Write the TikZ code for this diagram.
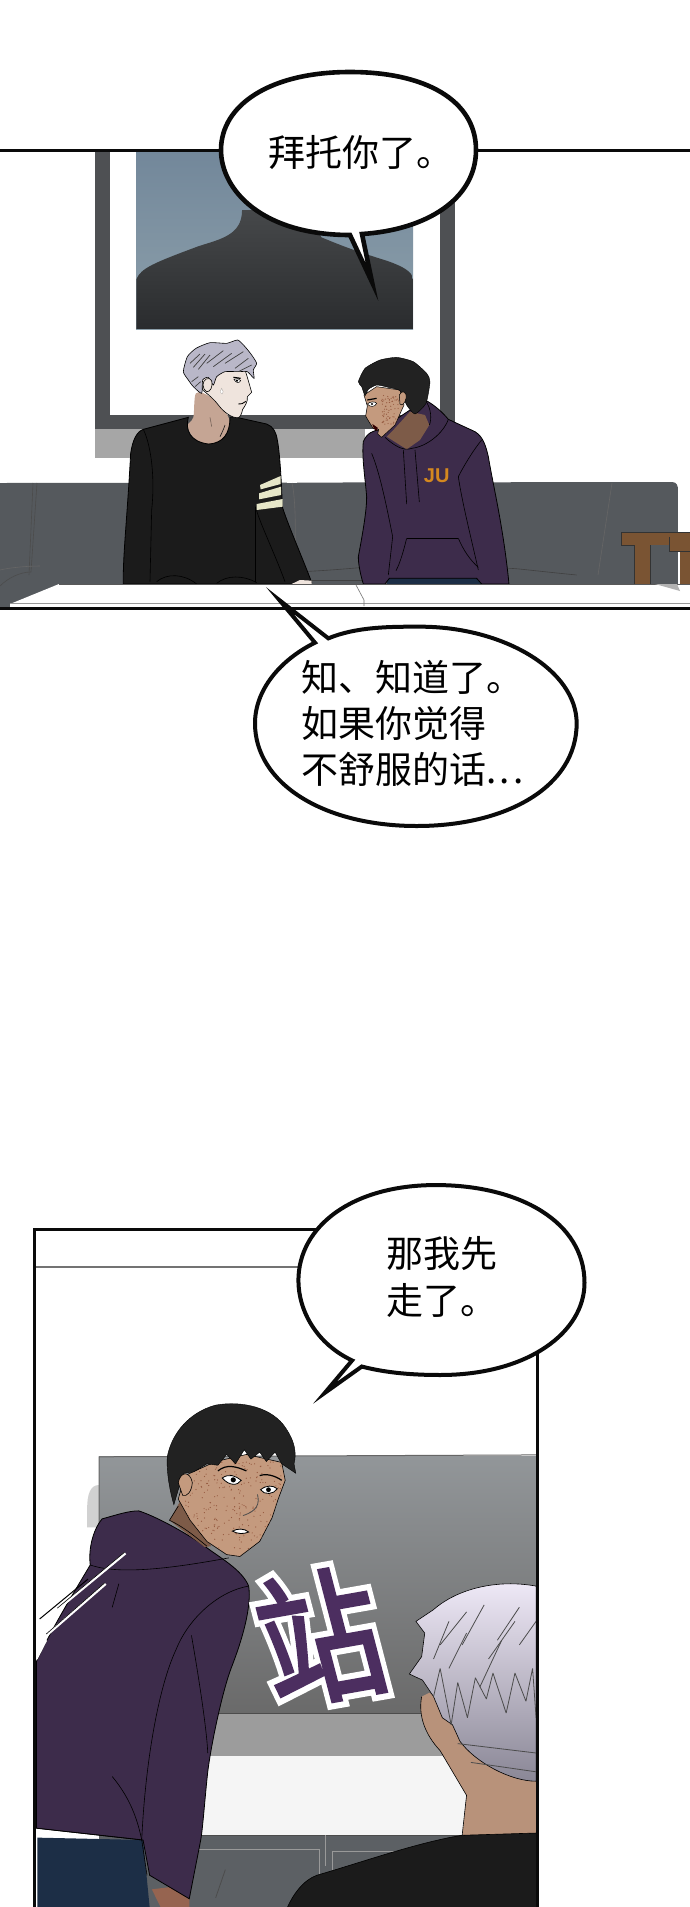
\documentclass[tikz,border=0pt]{standalone}
\usepackage{fontspec}
\setmainfont{Liberation Sans}
\newfontfamily\cjk{Noto Sans CJK SC}
\newfontfamily\cjkhalo[FakeBold=11]{Noto Sans CJK SC}
\newfontfamily\cjkfill[FakeBold=2.5]{Noto Sans CJK SC}
\usetikzlibrary{calc}
\definecolor{lineK}{HTML}{0A0A0A}
\definecolor{frameG}{HTML}{4E5053}
\definecolor{sofaG}{HTML}{55595D}
\definecolor{hoodP}{HTML}{3D2C4B}
\definecolor{sweat}{HTML}{1B1B1B}
\definecolor{hairD}{HTML}{222222}
\definecolor{hairL}{HTML}{B9B7C8}
\definecolor{skinL}{HTML}{EFE4DD}
\definecolor{neckL}{HTML}{C5A594}
\definecolor{skinF}{HTML}{C49A7E}
\definecolor{neckD}{HTML}{7D5B48}
\definecolor{speck}{HTML}{95593F}
\definecolor{wood}{HTML}{7A5433}
\definecolor{blueT}{HTML}{72879A}
\definecolor{blueB}{HTML}{8DA0AB}
\definecolor{silT}{HTML}{46484A}
\definecolor{silB}{HTML}{2A2C2E}
\definecolor{jeansA}{HTML}{1C2E46}
\definecolor{orangeJ}{HTML}{D4881F}
\definecolor{tvT}{HTML}{929699}
\definecolor{tvB}{HTML}{6A6A6A}
\definecolor{cab}{HTML}{5C6064}
\definecolor{handC}{HTML}{966450}
\definecolor{neckG}{HTML}{B8927A}
\definecolor{hairT}{HTML}{F0EAF8}
\definecolor{hairM}{HTML}{BEBACC}
\definecolor{hairB}{HTML}{8A8796}
\definecolor{zhanC}{HTML}{4C2E60}
\definecolor{stripe}{HTML}{E6E6C8}
\tikzset{
  za/.style={shift={(0,50)},x=.44014pt,y=-.36364pt},
  zb/.style={shift={(0,1170)},x=.44014pt,y=-.47015pt},
  zc/.style={shift={(110,330)},x=.33333pt,y=-.33333pt},
  panelline/.style={draw=lineK,line width=3pt},
  bubble/.style={draw=lineK,fill=white,line width=4pt,line join=miter,miter limit=12},
  say/.style={font=\cjk\fontsize{37}{46}\selectfont,align=left,inner sep=0pt,text=black},
  thin/.style={draw=#1,line width=.6pt},
}
\begin{document}
\begin{tikzpicture}[x=1pt,y=-1pt]
\useasboundingbox (0,0) rectangle (690,1907);
\fill[white] (0,0) rectangle (690,1907);

%%% ---- panel 1
\begin{scope}
\clip (0,150) rectangle (690,608);
% picture on the wall
\fill[frameG] (95,150) rectangle (455,429);
\fill[white] (110,150) rectangle (440,415);
\fill[gray!70] (95,429) rectangle (365,458);
\shade[top color=blueT,bottom color=blueB] (136,150) rectangle (413,329);
\begin{scope}[za]
\shade[top color=silT,bottom color=silB]
  (310,767) -- (310,630) .. controls (320,600) and (350,585) .. (450,540)
  .. controls (500,520) and (550,510) .. (550,440) -- (700,440)
  -- (730,515) .. controls (770,535) and (800,550) .. (880,580) .. controls (915,595) and (938,610) .. (938,630) -- (938,767) -- cycle;
\end{scope}
% sofa
\fill[sofaG] (0,483) -- (672,482) .. controls (677,482) and (678,486) .. (678,490) -- (678,592) -- (10,607) -- (0,607) -- cycle;
\fill[white] (287,470) rectangle (297,483);
\draw[thin=black!70] (33,483) -- (29,575);
\draw[thin=black!70] (37,483) -- (31,572);
\draw[thin=black!60] (292,483) .. controls (296,500) and (296,540) .. (294,570);
\draw[thin=black!60] (612,483) -- (598,575);
\draw[thin=black!60] (0,570) .. controls (8,568) and (25,566) .. (40,566);
\draw[thin=black!70] (0,586) .. controls (8,578) and (20,572) .. (31,572);
\begin{scope}[zc]
\draw[thin=black!75] (430,725) .. controls (500,732) and (650,722) .. (760,712);
\draw[thin=black!75] (1195,715) .. controls (1220,715) and (1250,720) .. (1400,735);
\draw[thin=black!75] (435,752) -- (760,752);
\end{scope}
% chairs
\fill[white] (678,482) rectangle (690,584);
\fill[wood] (621,532) -- (690,532) -- (690,545) -- (621,545) -- cycle;
\fill[wood] (634,545) rectangle (650,584);
\fill[wood] (669,537) -- (690,537) -- (690,551) -- (669,551) -- cycle;
\fill[wood] (680,551) rectangle (690,584);
\draw[thin=black!80] (621,532) -- (690,532);
\draw[thin=black!80] (669,537) -- (669,551) -- (690,551);
\draw[thin=black!80] (621,532) -- (621,545) -- (634,545) -- (634,584);
\draw[thin=black!80] (650,545) -- (650,584);
% man in the black sweater
\begin{scope}[zc]
\fill[neckL] plot[smooth cycle,tension=.5] coordinates{(258,190) (250,262) (232,288) (255,328) (295,342) (340,330) (358,292) (352,255) (300,200)};
\filldraw[fill=sweat,draw=black,line width=.8pt]
  (235,262) .. controls (225,300) and (240,335) .. (295,342) .. controls (340,340) and (360,310) .. (360,262)
  -- (380,262) -- (470,282) .. controls (490,290) and (498,305) .. (502,330) .. controls (510,370) and (515,470) .. (517,530)
  .. controls (530,575) and (580,690) .. (605,757) -- (545,762) -- (40,762) .. controls (38,680) and (52,560) .. (62,370)
  .. controls (68,330) and (80,305) .. (100,298) -- cycle;
\draw[thin=black!90] (345,285) .. controls (340,300) and (335,310) .. (330,320);
\draw[thin=neckL!60!black] (300,262) -- (305,290);
\draw[thin=black] (100,298) .. controls (125,350) and (135,450) .. (125,540) -- (120,755);
\draw[thin=black] (437,530) .. controls (437,620) and (437,700) .. (437,755);
\draw[thin=black] (437,530) .. controls (445,570) and (490,660) .. (525,755);
\draw[thin=black] (140,755) .. controls (170,730) and (220,730) .. (260,762);
\draw[thin=black] (320,760) .. controls (350,735) and (400,735) .. (440,758);
\fill[skinL] (545,762) -- (570,750) -- (605,752) -- (605,762) -- cycle;
\fill[stripe] (450,465) -- (512,438) -- (512,462) -- (452,478) -- cycle;
\fill[stripe] (447,490) -- (513,470) -- (513,495) -- (447,508) -- cycle;
\fill[stripe] (440,522) -- (518,507) -- (518,530) -- (440,540) -- cycle;
\filldraw[fill=skinL,draw=black,line width=.6pt] (270,150) .. controls (300,125) and (360,115) .. (405,120) .. controls (412,140) and (420,170) .. (425,187)
  -- (412,200) .. controls (414,215) and (405,228) .. (398,238) .. controls (395,250) and (392,260) .. (385,263)
  .. controls (365,265) and (340,245) .. (325,225) .. controls (310,205) and (290,190) .. (278,180) -- cycle;
\filldraw[fill=hairL,draw=black,line width=.6pt] plot[smooth cycle,tension=.35] coordinates{(220,125) (232,80) (258,55) (300,38) (350,40) (383,30) (405,50) (425,75) (440,100) (430,120) (432,145) (412,125) (385,125) (345,125) (320,140) (310,165) (295,142) (278,150) (275,190) (250,170) (235,150)};
\foreach \a/\b/\c/\d in {240/100/270/72,250/112/285/72,265/118/300/75,290/100/340/62,310/110/365/70,345/100/400/65,375/115/415/85,385/125/425/105,255/170/272/155,245/155/265/140}
  {\draw[black!75,line width=.7pt] (\a,\b) -- (\c,\d);}
\filldraw[fill=skinL,draw=black,line width=.6pt] (279,165) .. controls (278,148) and (298,138) .. (305,152) .. controls (310,170) and (300,187) .. (290,185) .. controls (283,182) and (280,175) .. (279,165) -- cycle;
\draw[black,line width=1.2pt] (370,142) -- (392,145);
\filldraw[fill=white,draw=black,line width=.5pt] (372,148) .. controls (380,143) and (388,146) .. (392,152) .. controls (388,160) and (378,160) .. (372,148) -- cycle;
\fill[black] (381,152) circle (1.2pt);
\draw[black,line width=.9pt] (385,222) .. controls (392,224) and (400,220) .. (408,214);
\filldraw[fill=white,draw=skinL!70!black,line width=.3pt] (335,175) .. controls (328,185) and (332,192) .. (336,192) .. controls (342,190) and (340,182) .. (335,175) -- cycle;
\end{scope}
% man in the purple hoodie
\begin{scope}[zc]
\fill[jeansA] (830,735) rectangle (1120,762);
\filldraw[fill=hoodP,draw=black,line width=.8pt]
  (945,210) .. controls (975,225) and (1000,250) .. (1015,268) -- (1095,305) .. controls (1120,320) and (1128,350) .. (1135,380)
  .. controls (1150,470) and (1180,590) .. (1197,762) -- (1115,762) -- (1100,745) -- (838,745) -- (825,762) -- (760,762)
  .. controls (750,730) and (745,700) .. (745,680) .. controls (760,600) and (770,540) .. (770,500)
  .. controls (765,440) and (755,380) .. (760,335) .. controls (770,310) and (790,300) .. (810,300) -- cycle;
\fill[neckD] (830,320) -- (850,300) -- (900,245) -- (945,255) -- (958,285) -- (930,330) -- (890,358) -- cycle;
\draw[thin=black] (825,322) .. controls (850,345) and (880,365) .. (905,355) .. controls (950,350) and (1000,310) .. (1015,268);
\draw[thin=black] (945,210) .. controls (965,235) and (965,270) .. (958,285);
\draw[thin=black] (880,360) -- (890,522);
\draw[thin=black] (915,360) -- (928,516);
\draw[thin=black] (890,625) -- (1045,625);
\draw[thin=black] (890,625) .. controls (880,665) and (870,700) .. (858,722);
\draw[thin=black] (1045,625) .. controls (1060,660) and (1080,690) .. (1105,712);
\draw[thin=black] (785,370) .. controls (810,430) and (830,530) .. (848,620) -- (835,735);
\draw[thin=black] (1115,330) .. controls (1090,360) and (1060,410) .. (1045,440) .. controls (1055,510) and (1080,610) .. (1105,720);
\def\facepath{(762,195) -- (800,170) -- (870,180) -- (882,225) -- (855,285) -- (815,322) -- (803,312) -- (806,298) -- (790,296) -- (775,272) -- (767,258) -- (772,228) -- cycle}
\filldraw[fill=skinF,draw=black,line width=.5pt] \facepath;
\begin{scope}
\clip \facepath;
\pgfmathsetseed{7}
\foreach \i in {1,...,70}{
  \pgfmathsetmacro{\px}{815+55*rnd}
  \pgfmathsetmacro{\py}{195+90*rnd}
  \fill[speck] (\px,\py) circle (.6pt);
}
\end{scope}
\filldraw[fill=hairD,draw=black,line width=.4pt] plot[smooth cycle,tension=.35] coordinates{(745,155) (765,115) (810,90) (860,82) (910,95) (950,130) (960,155) (948,220) (915,252) (890,225) (870,182) (835,172) (800,165) (775,178) (765,197) (755,170)};
\filldraw[fill=skinF,draw=black,line width=.5pt] (868,195) .. controls (875,178) and (892,185) .. (888,205) .. controls (885,222) and (875,228) .. (870,222) -- cycle;
\draw[black,line width=1.2pt] (772,210) -- (800,205);
\filldraw[fill=white,draw=black,line width=.5pt] (772,222) .. controls (780,214) and (795,214) .. (800,220) .. controls (795,232) and (780,232) .. (772,222) -- cycle;
\fill[black] (786,222) circle (1.2pt);
\fill[black!80!red] (787,282) -- (803,293) -- (802,303) -- (792,297) -- cycle;
\node[font=\bfseries\fontsize{20}{20}\selectfont,text=orangeJ,inner sep=0pt] (ju) at (980,437) {JU};
\end{scope}
% table
\fill[white] (10,604) -- (59,584) -- (690,584) -- (690,607) -- (10,607) -- cycle;
\draw[thin=black!65] (59,584) -- (690,584);
\draw[thin=black!40] (10,603) -- (690,603);
\fill[gray!60] (655,584) -- (680,591) -- (677,584) -- cycle;
\begin{scope}[zc]
\draw[thin=black!55] (738,765) -- (762,810) -- (762,828);
\end{scope}
\end{scope}
\draw[panelline] (0,150) -- (690,150);
\draw[panelline] (0,608) -- (690,608);

% bubble 1
\path[bubble,line width=4.6pt] (362,234) .. controls (425,230) and (476,200) .. (476,150)
  .. controls (476,100) and (425,72) .. (350,72) .. controls (270,72) and (221,105) .. (221,150)
  .. controls (221,190) and (262,235) .. (350,235) -- (372,282) -- cycle;
\node[say,anchor=west] (t1) at (268,153) {拜托你了。};

% bubble 2
\begin{scope}[shift={(230,580)},x=.33333pt,y=-.33333pt]
\path[bubble] (295,175) .. controls (380,140) and (480,140) .. (570,140)
  .. controls (820,140) and (1040,270) .. (1040,430) .. controls (1040,620) and (830,738) .. (560,738)
  .. controls (280,738) and (75,610) .. (75,430) .. controls (75,330) and (150,240) .. (255,188) -- (149,61) -- cycle;
\end{scope}
\node[say,anchor=north west] (t2) at (301,660) {知、知道了。\\如果你觉得\\不舒服的话.\kern3.5pt.\kern3.5pt.};

%%% ---- panel 3
\begin{scope}
\clip (34,1229) rectangle (537,1907);
\draw[black!55,line width=1.2pt] (34,1267) -- (310,1267);
\begin{scope}[zb]
\fill[black!18] (225,670) .. controls (205,670) and (198,690) .. (198,720) -- (198,760) -- (225,760) -- cycle;
\shade[top color=tvT,bottom color=tvB] (225,610) rectangle (1220,1155);
\draw[black!60,line width=1pt] (225,760) -- (225,610) -- (1220,606);
\draw[black!70,line width=1.2pt] (225,1157) -- (1220,1157);
\fill[gray!78] (225,1157) rectangle (1220,1247);
\fill[black!4] (225,1247) rectangle (1220,1415);
\fill[cab] (225,1415) rectangle (1220,1568);
\draw[black!70,line width=1pt] (225,1415) -- (1220,1415);
\draw[black!40,line width=.8pt] (440,1445) -- (725,1445) -- (725,1568);
\draw[black!40,line width=.8pt] (740,1415) -- (740,1480);
\draw[black!40,line width=.8pt] (755,1568) -- (755,1450) -- (1000,1450);
\draw[black!70,line width=.8pt] (512,1488) -- (490,1548);
% hooded man
\fill[jeansA] (85,1420) -- (325,1425) -- (340,1568) -- (85,1568) -- cycle;
\fill[handC] (345,1530) -- (430,1520) -- (430,1568) -- (365,1568) -- cycle;
\filldraw[fill=hoodP,draw=black,line width=.8pt]
  (83,1045) .. controls (120,970) and (180,880) .. (205,840) .. controls (200,800) and (215,760) .. (232,742)
  .. controls (260,735) and (290,725) .. (315,725) .. controls (350,735) and (420,770) .. (465,800)
  .. controls (500,825) and (550,850) .. (565,885) .. controls (572,930) and (550,1000) .. (525,1060)
  .. controls (505,1110) and (480,1220) .. (472,1280) .. controls (465,1340) and (460,1410) .. (455,1430)
  -- (430,1550) -- (340,1500) -- (325,1425) -- (83,1400) -- cycle;
\draw[thin=black] (205,840) .. controls (280,865) and (430,840) .. (520,825);
\draw[thin=black] (270,880) -- (255,930);
\draw[thin=black] (565,885) .. controls (500,895) and (430,950) .. (400,1020) .. controls (360,1100) and (330,1260) .. (322,1425) -- (334,1500);
\draw[thin=black] (435,990) .. controls (450,1070) and (470,1190) .. (472,1240);
\draw[thin=black] (255,1290) .. controls (290,1330) and (310,1370) .. (322,1425);
\draw[thin=black] (83,1400) -- (322,1425);
% face
\fill[neckD] (385,745) -- (412,700) -- (480,800) -- (465,802) -- cycle;
\draw[thin=black] (385,745) -- (405,715);
\draw[thin=black] (385,745) .. controls (420,760) and (450,785) .. (470,800);
\def\faceb{(405,700) -- (420,650) -- (490,620) -- (560,605) -- (640,622) -- (648,660) -- (632,700) -- (618,740) -- (590,790) -- (545,822) -- (515,818) -- (470,790) -- (432,745) -- cycle}
\filldraw[fill=skinF,draw=black,line width=.6pt] \faceb;
\begin{scope}
\clip \faceb;
\pgfmathsetseed{11}
\foreach \i in {1,...,260}{
  \pgfmathsetmacro{\px}{420+220*rnd}
  \pgfmathsetmacro{\py}{620+200*rnd}
  \fill[speck] (\px,\py) circle (.6pt);
}
\end{scope}
\filldraw[fill=hairD,draw=black,line width=.4pt] (380,610) .. controls (390,560) and (430,515) .. (490,500) .. controls (550,490) and (620,505) .. (650,550)
  .. controls (668,575) and (675,600) .. (668,625) -- (672,645) -- (640,625) -- (625,600) -- (605,620) -- (590,600) -- (570,615) -- (555,595) -- (535,625) -- (515,605) -- (495,628) -- (470,625) -- (440,642) -- (418,645)
  -- (405,680) -- (395,712) .. controls (385,680) and (378,640) .. (380,610) -- cycle;
\filldraw[fill=skinF,draw=black,line width=.6pt] (405,665) .. controls (410,640) and (432,640) .. (437,665) .. controls (435,685) and (425,695) .. (415,692) -- cycle;
\draw[black,line width=1.2pt] (495,640) .. controls (515,625) and (535,630) .. (560,640);
\draw[black,line width=1.2pt] (590,650) .. controls (605,645) and (625,650) .. (640,660);
\filldraw[fill=white,draw=black,line width=.8pt] (505,655) .. controls (520,645) and (535,650) .. (548,660) .. controls (540,672) and (520,672) .. (505,655) -- cycle;
\filldraw[fill=white,draw=black,line width=.8pt] (592,680) .. controls (605,670) and (620,670) .. (630,678) .. controls (622,690) and (600,692) .. (592,680) -- cycle;
\fill[black] (530,659) circle (2.6pt);
\fill[black] (610,680) circle (2.4pt);
\draw[black!70,line width=.8pt] (585,690) .. controls (590,710) and (585,725) .. (552,735);
\filldraw[fill=white,draw=black,line width=.8pt] (528,768) .. controls (540,762) and (555,762) .. (565,770) .. controls (552,775) and (540,774) .. (528,768) -- cycle;
% motion lines
\draw[black,line width=1pt] (90,955) -- (200,870);
\draw[white,line width=2.6pt] (130,935) -- (285,815);
\draw[black,line width=.6pt] (130,932) -- (283,813);
\draw[white,line width=2.6pt] (105,990) -- (240,880);
\draw[black,line width=.6pt] (105,987) -- (238,878);
\draw[white,line width=2pt] (83,1040) -- (105,1000);
% grey-haired man, seen from behind
\fill[neckG] (958,1120) -- (975,1112) -- (1218,1250) -- (1218,1415) -- (1050,1420) -- (1060,1330) -- (1000,1235) .. controls (965,1200) and (950,1160) .. (958,1120) -- cycle;
\draw[thin=black] (958,1120) .. controls (950,1160) and (965,1200) .. (1000,1235);
\draw[thin=black] (1000,1235) -- (1060,1330) -- (1050,1415);
\shade[top color=hairT,middle color=hairM,bottom color=hairB,draw=black,line width=.6pt]
  (930,1072) -- (958,1035) -- (965,985) -- (945,960) -- (985,935) .. controls (1040,890) and (1130,870) .. (1218,885) -- (1218,1300)
  .. controls (1160,1300) and (1080,1260) .. (1045,1215) -- (1028,1180) -- (1005,1165) -- (985,1120) -- (960,1085) -- cycle;
\draw[black!70,line width=.8pt,line join=bevel] (985,1120) -- (1000,1060) -- (1025,1180) -- (1040,1090) -- (1062,1165) -- (1080,1080) -- (1105,1125) -- (1120,1070) -- (1150,1155) -- (1170,1070) -- (1195,1130) -- (1210,1060) -- (1218,1165);
\foreach \a/\b/\c/\d in {985/1040/1020/960,1050/1010/1100/925,1130/1000/1180/930,1180/1010/1218/960,1020/1060/1060/985,1090/1100/1140/1000,1040/1220/1218/1240,1070/1260/1218/1280,1000/1010/1060/940,1110/1040/1170/960}
  {\draw[black!70,line width=.8pt] (\a,\b) -- (\c,\d);}
\filldraw[fill=sweat,draw=black,line width=.6pt] (650,1575) .. controls (665,1540) and (690,1510) .. (720,1500) .. controls (830,1470) and (950,1430) .. (1050,1415) -- (1225,1410) -- (1225,1575) -- cycle;
\end{scope}
% the sound word
\node[font=\cjkhalo\fontsize{132}{132}\selectfont,text=white,inner sep=0pt,rotate=10,xslant=-.08,xscale=.92,yscale=1.08] (zhanb) at (320,1637) {站};
\node[font=\cjkfill\fontsize{132}{132}\selectfont,text=zhanC,inner sep=0pt,rotate=10,xslant=-.08,xscale=.92,yscale=1.08] (zhan) at (320,1637) {站};
\end{scope}
% frame of panel 3
\draw[panelline] (34,1907) -- (34,1229) -- (537,1229) -- (537,1907);
% bubble 3
\begin{scope}[zb]
\path[bubble] (822,418) .. controls (880,432) and (940,436) .. (1000,436)
  .. controls (1200,436) and (1328,345) .. (1328,240) .. controls (1328,110) and (1180,32) .. (990,32)
  .. controls (800,32) and (678,120) .. (678,235) .. controls (678,300) and (720,370) .. (800,405) -- (738,474) -- cycle;
\end{scope}
\node[say,anchor=north west] (t3) at (386,1236) {那我先\\[1pt]走了。};
\end{tikzpicture}
\end{document}
